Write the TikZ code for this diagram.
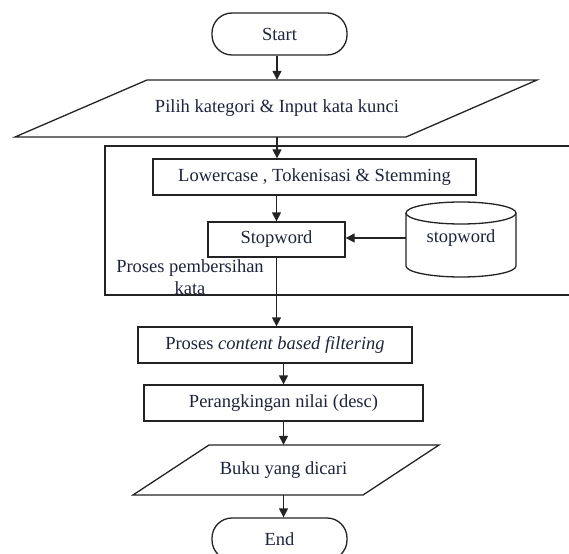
\documentclass[tikz,border=0pt]{standalone}
\usepackage{fontspec}
\setmainfont{Liberation Serif}
\usetikzlibrary{arrows.meta}
\definecolor{txt}{RGB}{30,35,60}
\definecolor{ln}{RGB}{35,35,35}
\tikzset{
  base/.style={font=\fontsize{18.5}{22}\selectfont, text=txt, inner sep=0pt},
  box/.style={base, draw=ln, line width=1.3pt},
  term/.style={box, rounded corners=20pt, minimum width=135pt, minimum height=42pt},
  plain/.style={base},
  flow/.style={draw=ln, line width=1.3pt, -{Triangle[length=9pt,width=9pt]}},
  edge/.style={draw=ln, line width=1.3pt},
}
\begin{document}
\begin{tikzpicture}[x=1pt,y=-1pt]
\useasboundingbox (0,0) rectangle (569,553);
\clip (0,0) rectangle (569,553);
% frame
\draw[edge] (580,146) -- (105,146) -- (105,295) -- (580,295);
% nodes
\node[term] (start) at (279.5,34) {Start};
\draw[edge] (15,137) -- (147,80) -- (537,80) -- (406,137) -- cycle;
\node[plain, minimum height=57pt, minimum width=240pt] (in) at (277,108.5) {Pilih kategori \& Input kata kunci};
\node[box, minimum width=323pt, minimum height=36pt] (lower) at (314.5,177) {Lowercase , Tokenisasi \& Stemming};
\node[box, minimum width=137pt, minimum height=35pt] (stop) at (276.5,239.5) {Stopword};
% cylinder
\draw[edge, fill=white] (406,213) -- (406,266) arc[start angle=180, end angle=0, x radius=55, y radius=11] -- (516,213);
\draw[edge] (461,213) ellipse [x radius=55, y radius=11];
\node[plain, minimum width=110pt, minimum height=20pt] (db) at (461,238) {stopword};
\node[plain, align=center] (lbl) at (190,277.5) {Proses pembersihan\\kata};
\node[box, minimum width=274pt, minimum height=36pt] (cbf) at (275,345) {Proses \textit{content based filtering}};
\node[box, minimum width=279pt, minimum height=36pt] (rank) at (283.5,403) {Perangkingan nilai (desc)};
\draw[edge] (133,495) -- (209,445) -- (439,445) -- (363,495) -- cycle;
\node[plain, minimum height=50pt, minimum width=150pt] (out) at (283.5,470) {Buku yang dicari};
\node[term] (end) at (279.5,539) {End};
% connectors
\draw[flow] (start.south -| in.north) -- (in.north);
\draw[flow] (in.south) -- (in.south |- lower.north);
\draw[flow] (stop.north |- lower.south) -- (stop.north);
\draw[flow] (db.west) -- (db.west -| stop.east);
\draw[flow] (stop.south) -- (stop.south |- cbf.north);
\draw[flow] (rank.north |- cbf.south) -- (rank.north);
\draw[flow] (rank.south) -- (rank.south |- out.north);
\draw[flow] (out.south) -- (out.south |- end.north);
\end{tikzpicture}
\end{document}
